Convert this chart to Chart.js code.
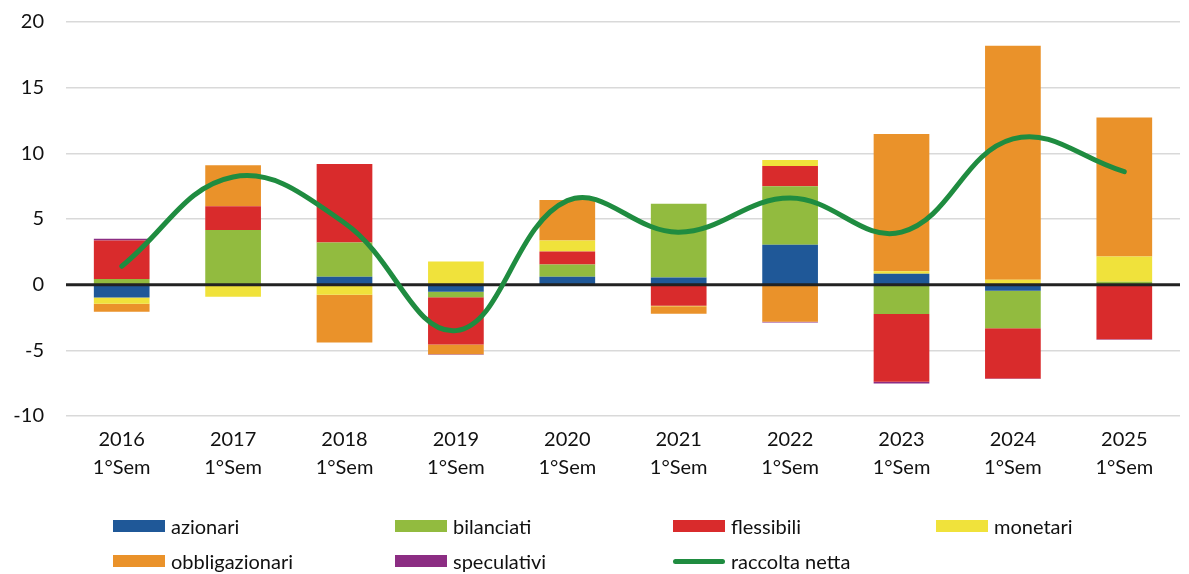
<!DOCTYPE html>
<html>
<head>
<meta charset="utf-8">
<script src="https://cdn.jsdelivr.net/npm/chart.js@4.4.1/dist/chart.umd.min.js"></script>
<style>
  body { margin: 0; background: #fff; font-family: 'Lato', 'Open Sans', sans-serif; }
  #wrap { position: relative; width: 1189px; height: 574px; }
  #legenda { position: absolute; left: 0; top: 0; width: 1189px; height: 574px; pointer-events: none; }
  .item { position: absolute; display: flex; align-items: center; font-size: 20px; color: #111; white-space: nowrap; }
  .box { width: 52px; height: 12px; margin-right: 6px; }
  .linha { width: 52px; height: 5px; border-radius: 3px; margin-right: 6px; }
</style>
</head>
<body>
<div id="wrap">
  <canvas id="grafico" width="1189" height="574"></canvas>
  <div id="legenda"></div>
</div>
<script>
// Dati
const categorie = [['2016', '1°Sem'], ['2017', '1°Sem'], ['2018', '1°Sem'], ['2019', '1°Sem'], ['2020', '1°Sem'],
                   ['2021', '1°Sem'], ['2022', '1°Sem'], ['2023', '1°Sem'], ['2024', '1°Sem'], ['2025', '1°Sem']];
const azionari       = [-0.97, 0, 0.61, -0.54, 0.61, 0.54, 3.04, 0.84, -0.46, -0.1];
const bilanciati     = [0.44, 4.16, 2.6, -0.41, 0.92, 5.63, 4.46, -2.24, -2.85, 0.23];
const flessibili     = [2.93, 1.81, 5.97, -3.6, 0.99, -1.6, 1.53, -5.16, -3.83, -4.05];
const monetari       = [-0.48, -0.92, -0.77, 1.76, 0.85, -0.05, 0.46, 0.18, 0.38, 1.91];
const obbligazionari = [-0.61, 3.13, -3.64, -0.74, 3.08, -0.56, -2.83, 10.46, 17.81, 10.59];
const speculativi    = [0.13, 0, 0, -0.05, -0.1, 0, -0.05, -0.12, -0.05, -0.05];
const raccoltaNetta  = [1.4, 8.2, 4.7, -3.5, 6.4, 4.0, 6.6, 4.0, 11.1, 8.6];
const tickY = [-10, -5, 0, 5, 10, 15, 20];

const serie = [
  { label: 'azionari', data: azionari, color: '#1f5898' },
  { label: 'bilanciati', data: bilanciati, color: '#92bb3f' },
  { label: 'flessibili', data: flessibili, color: '#d92b2c' },
  { label: 'monetari', data: monetari, color: '#f0e23b' },
  { label: 'obbligazionari', data: obbligazionari, color: '#ea922a' },
  { label: 'speculativi', data: speculativi, color: '#8c2d83' }
];
const coloreLinea = '#1f8c40';

Chart.defaults.font.family = "'Lato', 'Open Sans', sans-serif";
Chart.defaults.font.size = 20;
Chart.defaults.color = '#111';

// Linea dello zero sopra le barre, sotto la linea verde
const lineaZero = {
  id: 'lineaZero',
  beforeDatasetDraw(chart, args) {
    if (args.index !== 6) return;
    const ctx = chart.ctx;
    const y = chart.scales.y.getPixelForValue(0);
    ctx.save();
    ctx.strokeStyle = '#222';
    ctx.lineWidth = 3;
    ctx.beginPath();
    ctx.moveTo(chart.chartArea.left, y);
    ctx.lineTo(chart.chartArea.right, y);
    ctx.stroke();
    ctx.restore();
  }
};

const datasets = serie.map(s => ({
  type: 'bar',
  label: s.label,
  data: s.data,
  backgroundColor: s.color,
  borderWidth: 0,
  order: 1,
  categoryPercentage: 1,
  barPercentage: 0.5
}));
datasets.push({
  type: 'line',
  label: 'raccolta netta',
  data: raccoltaNetta,
  borderColor: coloreLinea,
  borderWidth: 5,
  borderCapStyle: 'round',
  tension: 0.4,
  pointRadius: 0,
  order: 0
});

new Chart(document.getElementById('grafico').getContext('2d'), {
  type: 'bar',
  data: { labels: categorie, datasets },
  options: {
    responsive: false,
    animation: false,
    layout: { padding: { top: 22, right: 9, left: 0, bottom: 0 } },
    plugins: { legend: { display: false }, tooltip: { enabled: false } },
    scales: {
      x: {
        stacked: true,
        grid: { display: false },
        border: { display: false },
        ticks: { padding: 2, font: { size: 20, lineHeight: 1.4 }, maxRotation: 0 },
        afterFit(scale) { scale.height = 158; }
      },
      y: {
        stacked: true,
        min: -10,
        max: 20,
        afterBuildTicks(scale) { scale.ticks = tickY.map(v => ({ value: v })); },
        grid: { color: '#d9d9d9', lineWidth: 1.5, drawTicks: false },
        border: { display: false },
        ticks: { padding: 22 },
        afterFit(scale) { scale.width = 66; scale.paddingTop = 0; scale.paddingBottom = 0; }
      }
    }
  },
  plugins: [lineaZero]
});

// Legenda HTML
const legenda = document.getElementById('legenda');
const posizioni = [[113, 527], [395, 527], [673, 527], [936, 527], [113, 562], [395, 562], [673, 562]];
const voci = serie.map(s => ({ label: s.label, color: s.color, linea: false }))
  .concat([{ label: 'raccolta netta', color: coloreLinea, linea: true }]);
voci.forEach((v, i) => {
  const el = document.createElement('div');
  el.className = 'item';
  el.style.left = posizioni[i][0] + 'px';
  el.style.top = (posizioni[i][1] - 13) + 'px';
  el.innerHTML = `<span class="${v.linea ? 'linha' : 'box'}" style="background:${v.color}"></span><span>${v.label}</span>`;
  legenda.appendChild(el);
});
</script>
</body>
</html>
